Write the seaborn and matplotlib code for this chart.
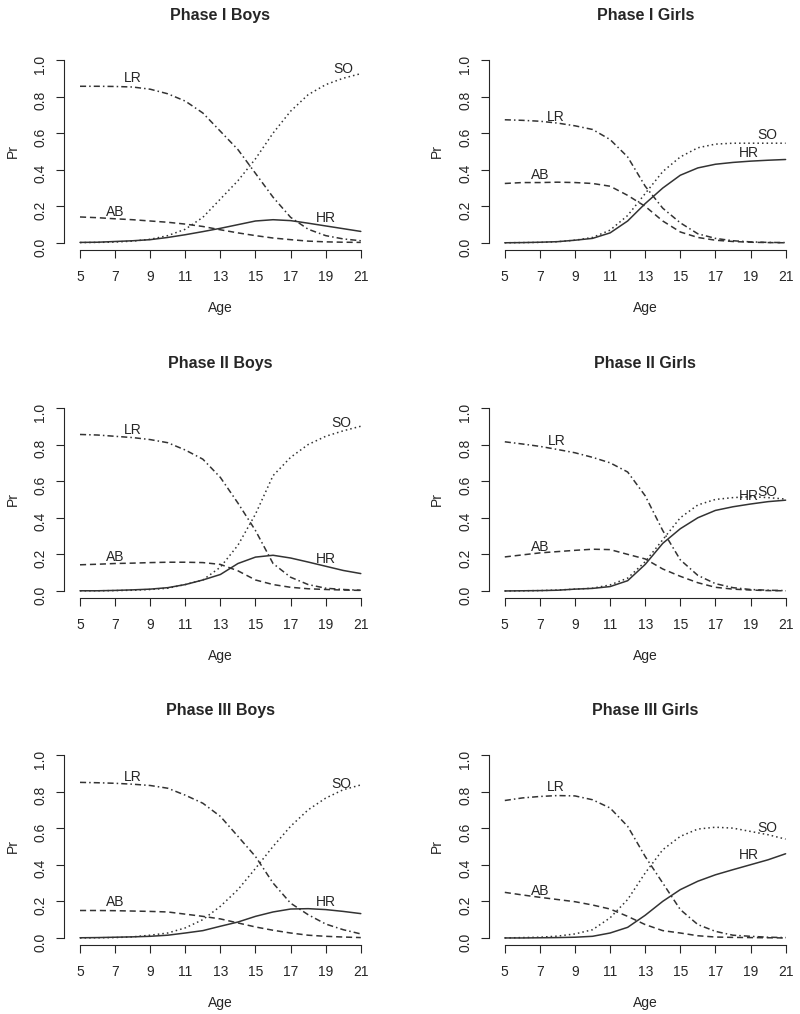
import numpy as np
import pandas as pd
import matplotlib
matplotlib.use("Agg")
import matplotlib.pyplot as plt
import seaborn as sns

# ages on the x axis
ages = list(range(5, 22))
xticks = [5, 7, 9, 11, 13, 15, 17, 19, 21]
yticks = [0.0, 0.2, 0.4, 0.6, 0.8, 1.0]
states = ["LR", "SO", "AB", "HR"]

# Phase I Boys
p1b_lr = [.856, .856, .855, .852, .84, .815, .775, .71, .61, .51, .38, .25, .14, .075, .04, .022, .012]
p1b_so = [.002, .003, .005, .01, .02, .04, .075, .14, .24, .34, .46, .6, .72, .81, .865, .9, .925]
p1b_ab = [.142, .138, .132, .127, .12, .113, .103, .09, .072, .055, .04, .027, .018, .01, .006, .004, .003]
p1b_hr = [.003, .004, .008, .012, .018, .03, .045, .062, .08, .1, .12, .127, .122, .108, .093, .078, .063]

# Phase I Girls
p1g_lr = [.673, .67, .665, .655, .64, .62, .565, .47, .31, .19, .11, .05, .025, .012, .006, .003, .002]
p1g_so = [.001, .002, .003, .007, .015, .03, .07, .15, .27, .39, .47, .52, .54, .545, .545, .545, .545]
p1g_ab = [.325, .33, .33, .332, .33, .325, .31, .26, .20, .12, .06, .03, .015, .008, .004, .002, .001]
p1g_hr = [.001, .002, .004, .007, .015, .025, .055, .12, .215, .30, .37, .41, .43, .44, .447, .452, .456]

# Phase II Boys
p2b_lr = [.855, .852, .845, .838, .827, .81, .77, .72, .62, .48, .33, .15, .075, .035, .015, .008, .004]
p2b_so = [.001, .001, .002, .004, .008, .015, .035, .06, .13, .25, .42, .63, .73, .80, .845, .875, .9]
p2b_ab = [.143, .146, .15, .152, .155, .157, .157, .155, .145, .11, .06, .035, .02, .012, .008, .005, .003]
p2b_hr = [.001, .001, .003, .006, .01, .018, .035, .06, .09, .15, .185, .195, .18, .158, .135, .112, .095]

# Phase II Girls
p2g_lr = [.815, .803, .79, .773, .755, .73, .70, .65, .52, .33, .17, .085, .04, .018, .008, .004, .002]
p2g_so = [.0, .001, .002, .005, .01, .015, .033, .07, .16, .28, .40, .47, .50, .51, .515, .51, .502]
p2g_ab = [.186, .197, .208, .215, .222, .228, .226, .2, .175, .12, .08, .045, .02, .01, .005, .002, .001]
p2g_hr = [.0, .001, .002, .004, .01, .014, .024, .056, .145, .26, .34, .40, .44, .46, .475, .488, .496]

# Phase III Boys
p3b_lr = [.85, .848, .845, .84, .833, .818, .78, .736, .664, .555, .445, .3, .19, .127, .076, .045, .022]
p3b_so = [.0, .001, .002, .006, .015, .027, .055, .1, .173, .264, .38, .5, .61, .7, .764, .81, .836]
p3b_ab = [.15, .15, .149, .147, .145, .142, .13, .118, .104, .082, .06, .042, .027, .015, .009, .005, .002]
p3b_hr = [.001, .002, .004, .006, .009, .015, .027, .04, .064, .087, .118, .142, .158, .16, .155, .145, .133]

# Phase III Girls
p3g_lr = [.751, .765, .773, .778, .776, .755, .71, .61, .445, .30, .155, .073, .036, .015, .009, .004, .002]
p3g_so = [.0, .002, .004, .01, .022, .045, .11, .21, .355, .482, .555, .595, .605, .60, .582, .564, .54]
p3g_ab = [.249, .235, .222, .21, .198, .18, .158, .118, .073, .04, .027, .012, .005, .003, .002, .001, .0]
p3g_hr = [.0, .0, .001, .002, .004, .009, .027, .058, .124, .20, .264, .31, .345, .373, .40, .427, .46]

titles = ["Phase I Boys", "Phase I Girls", "Phase II Boys",
          "Phase II Girls", "Phase III Boys", "Phase III Girls"]
panels = [
    [p1b_lr, p1b_so, p1b_ab, p1b_hr],
    [p1g_lr, p1g_so, p1g_ab, p1g_hr],
    [p2b_lr, p2b_so, p2b_ab, p2b_hr],
    [p2g_lr, p2g_so, p2g_ab, p2g_hr],
    [p3b_lr, p3b_so, p3b_ab, p3b_hr],
    [p3g_lr, p3g_so, p3g_ab, p3g_hr],
]

# where the curve names sit (age, Pr) in each panel
label_pos = [
    {"LR": (8, .90), "SO": (20, .95), "AB": (7, .17), "HR": (19, .135)},
    {"LR": (7.9, .69), "SO": (19.95, .59), "AB": (7, .373), "HR": (18.9, .49)},
    {"LR": (8, .88), "SO": (19.9, .915), "AB": (7, .186), "HR": (19, .177)},
    {"LR": (7.95, .82), "SO": (19.95, .54), "AB": (7, .24), "HR": (18.9, .52)},
    {"LR": (8, .88), "SO": (19.9, .84), "AB": (7, .195), "HR": (19, .196)},
    {"LR": (7.9, .824), "SO": (19.95, .60), "AB": (7, .258), "HR": (18.9, .455)},
]

# long table for seaborn
rows = []
for title, series in zip(titles, panels):
    for state, vals in zip(states, series):
        for a, v in zip(ages, vals):
            rows.append({"panel": title, "state": state, "Age": a, "Pr": v})
df = pd.DataFrame(rows)

sns.set_style("ticks")
plt.rcParams["font.family"] = ["Liberation Sans", "DejaVu Sans"]
ink = "#262626"
line_ink = "#333333"

dash_map = {"LR": (4, 2, 1, 2), "SO": (1, 2), "AB": (4, 2.5), "HR": ""}

fig = plt.figure(figsize=(8, 10.14), dpi=100)

lefts = [0.100, 0.631]
bottoms = [0.7604, 0.4172, 0.0750]
w, h = 0.351, 0.1805

for i, title in enumerate(titles):
    ax = fig.add_axes([lefts[i % 2], bottoms[i // 2], w, h])
    sub = df[df["panel"] == title]
    sns.lineplot(data=sub, x="Age", y="Pr", style="state", style_order=states,
                 dashes=dash_map, color=line_ink, linewidth=1.1, legend=False,
                 ax=ax, clip_on=False)
    for st, (lx, ly) in label_pos[i].items():
        ax.text(lx, ly, st, ha="center", va="center", fontsize=10, color=ink)

    ax.set_xlim(5, 21)
    ax.set_ylim(0, 1)
    ax.set_xticks(xticks)
    ax.set_xticklabels([str(t) for t in xticks], fontsize=10.5, color=ink)
    ax.set_yticks(yticks)
    ax.set_yticklabels([f"{t:.1f}" for t in yticks], fontsize=10.5, color=ink)
    ax.tick_params(direction="out", length=6, width=0.8, colors=ink)
    ax.tick_params(axis="x", pad=8)
    ax.tick_params(axis="y", pad=6, labelrotation=90)
    for lab in ax.get_yticklabels():
        lab.set_verticalalignment("center")

    sns.despine(ax=ax)
    ax.spines["left"].set_position(("outward", 11.5))
    ax.spines["bottom"].set_position(("outward", 5.4))
    ax.spines["left"].set_bounds(0, 1)
    ax.spines["bottom"].set_bounds(5, 21)
    for s in ["left", "bottom"]:
        ax.spines[s].set_linewidth(0.8)
        ax.spines[s].set_color(ink)

    ax.set_xlabel("Age", fontsize=10, color=ink, labelpad=12)
    ax.set_ylabel("Pr", fontsize=10, color=ink, labelpad=10)
    ax.set_title(title, fontsize=11.5, fontweight="bold", color=ink, pad=29)

fig.savefig("out.png", dpi=100, facecolor="white")
